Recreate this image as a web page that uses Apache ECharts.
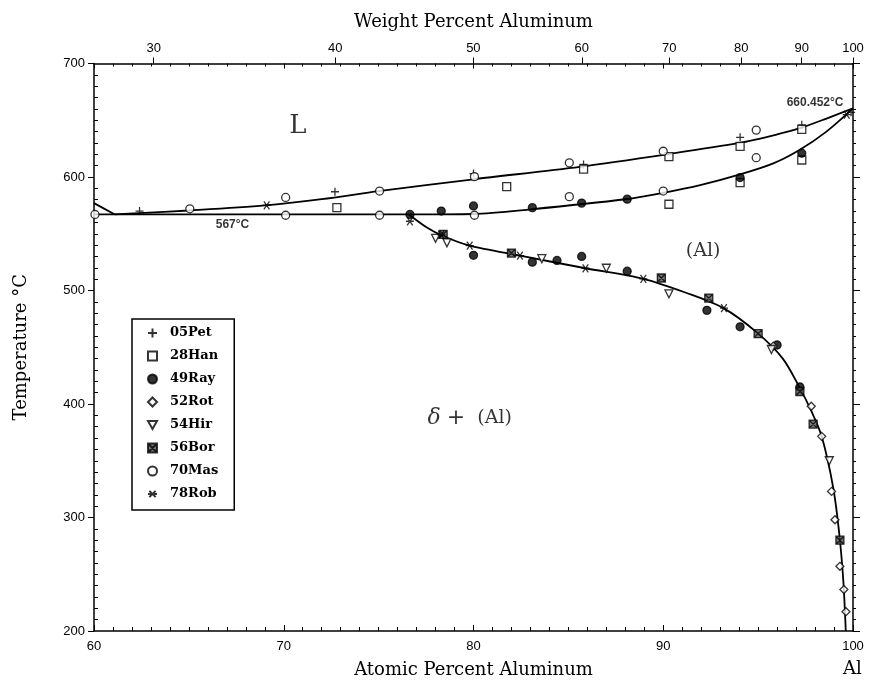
<!DOCTYPE html>
<html>
<head>
<meta charset="utf-8">
<script src="https://cdn.jsdelivr.net/npm/echarts@6.0.0/dist/echarts.min.js"></script>
<style>
html, body { margin: 0; padding: 0; background: #fff; }
#chart { width: 874px; height: 684px; }
</style>
</head>
<body>
<div id="chart"></div>
<script>
// tick labels
const atomicTicks = [60, 70, 80, 90, 100];
const weightTicks = [30, 40, 50, 60, 70, 80, 90, 100];
const tempTicks = [200, 300, 400, 500, 600, 700];

// phase boundaries: [at.% Al, °C]
const liquidusLeft = [[60, 577], [61.1, 567]];
const liquidus = [[61.1, 567], [62.4, 568.2], [65, 570.5], [69, 575], [72, 580.5], [75, 587.5], [80, 598], [85.6, 609], [90.2, 620], [94, 630], [96, 637.5], [97.2, 643], [98.6, 651.5], [100, 660.452]];
const eutectic = [[60, 567], [76.6, 567]];
const solidus = [[76.6, 567], [80, 567.4], [83, 571.5], [88, 580.4], [90, 586], [92, 593], [94, 602], [95.8, 612], [97.2, 624], [98.6, 640], [100, 660.452]];
const solvus = [[76.6, 567], [77.5, 556], [78.4, 548], [79.8, 539.5], [82.45, 530.7], [85.9, 519.6], [88.95, 510.3], [91.2, 498], [93.17, 484.5], [94.9, 463.5], [96.3, 440], [97.2, 414], [97.8, 394], [98.35, 371.5], [98.96, 326], [99.28, 285], [99.49, 244], [99.62, 200]];

// experimental points
const pet05 = [[62.4, 570], [72.7, 587], [80, 603], [85.8, 611], [94.05, 635], [97.3, 646], [99.9, 657]];
const han28 = [[72.8, 573], [81.75, 591.5], [85.8, 607], [90.3, 618], [90.3, 576], [94.05, 627], [94.05, 595], [97.3, 642], [97.3, 615]];
const ray49 = [[76.65, 567], [78.3, 570], [80, 574.5], [83.1, 573], [85.7, 577], [88.1, 580.5], [94.05, 599.5], [97.3, 621], [80, 531], [83.1, 525], [84.4, 526.5], [85.7, 530], [88.1, 517], [92.3, 482.5], [94.05, 468], [96, 452], [97.2, 415]];
const rot52 = [[95.8, 451], [97.8, 398], [98.35, 371.5], [98.87, 323], [99.05, 298], [99.31, 257], [99.52, 236.5], [99.63, 217]];
const hir54 = [[78, 546], [78.6, 542], [83.6, 528], [87, 519.6], [90.3, 497], [95.7, 448], [98.75, 350]];
const bor56 = [[78.4, 549.5], [82, 533], [89.9, 511], [92.4, 493.3], [95, 462], [97.2, 411], [97.9, 382.3], [99.31, 280]];
const mas70 = [[60.05, 567], [65.05, 572], [70.1, 582], [70.1, 566.3], [75.05, 587.6], [75.05, 566.3], [80.05, 600.3], [80.05, 566.3], [85.05, 612.5], [85.05, 582.7], [90, 622.7], [90, 587.6], [94.9, 641.3], [94.9, 617]];
const rob78 = [[69.1, 575], [76.65, 561], [78.3, 549], [79.8, 539.5], [82.45, 530.7], [85.9, 519.6], [88.95, 510.3], [93.2, 484.5], [99.67, 655]];

// text placed on the diagram
const noteText = ['L', '567°C', '660.452°C', '(Al)', '{d|δ} {p|+}  {a|(Al)}'];
const noteX = [70.75, 67.3, 98.0, 92.1, 79.8];
const noteY = [644.6, 557.6, 665.6, 535, 387.5];

// weight% Al -> atomic% Al (Ag-Al)
const M_AL = 26.98, M_AG = 107.87;
const wtToAt = (w) => {
  const a = w / M_AL, b = (100 - w) / M_AG;
  return 100 * a / (a + b);
};
const weightPos = weightTicks.map(wtToAt);

const noteStyles = [
  { fontFamily: 'DejaVu Serif', fontSize: 26 },
  { fontFamily: 'Liberation Sans', fontSize: 12, fontWeight: 'bold' },
  { fontFamily: 'Liberation Sans', fontSize: 12, fontWeight: 'bold' },
  { fontFamily: 'DejaVu Serif', fontSize: 19 },
  {
    fontFamily: 'DejaVu Serif', fontSize: 19,
    rich: {
      d: { fontFamily: 'DejaVu Serif', fontStyle: 'italic', fontSize: 22 },
      p: { fontFamily: 'DejaVu Sans', fontSize: 22 },
      a: { fontFamily: 'DejaVu Serif', fontSize: 19 }
    }
  }
];

const chart = echarts.init(document.getElementById('chart'));

const boundary = (data) => ({
  type: 'line',
  data: data,
  symbol: 'none',
  smooth: 0.3,
  silent: true,
  z: 1,
  lineStyle: { color: '#000', width: 1.8 }
});

const points = (name, data, symbol, fill) => ({
  name: name,
  type: 'scatter',
  data: data,
  symbol: symbol,
  symbolSize: 8,
  z: 3,
  itemStyle: { color: fill, borderColor: '#000', borderWidth: 1.3 }
});

const tickLabel = { fontFamily: 'Liberation Sans', fontSize: 13, color: '#000' };
const axisTitle = { fontFamily: 'DejaVu Serif', fontSize: 18, color: '#000' };
const blackLine = { show: true, lineStyle: { color: '#000', width: 1.5 } };

const option = {
  animation: false,
  backgroundColor: '#fff',
  grid: { left: 94, right: 21, top: 63.5, bottom: 50 },
  legend: {
    orient: 'vertical',
    left: 132,
    top: 319,
    selectedMode: false,
    itemWidth: 9,
    itemHeight: 9,
    itemGap: 9,
    padding: [7, 16, 9, 15],
    borderColor: '#000',
    borderWidth: 1.5,
    textStyle: {
      fontFamily: 'DejaVu Serif', fontWeight: 'bold', fontSize: 13,
      color: '#000', lineHeight: 14, padding: [0, 0, 0, 8]
    },
    data: ['05Pet', '28Han', '49Ray', '52Rot', '54Hir', '56Bor', '70Mas', '78Rob']
  },
  xAxis: [
    {
      type: 'value', position: 'bottom', min: 60, max: 100, interval: 10,
      name: 'Atomic Percent Aluminum', nameLocation: 'middle', nameGap: 30,
      nameTextStyle: axisTitle,
      axisLine: blackLine,
      axisTick: { inside: true, length: 6, lineStyle: { color: '#000' } },
      minorTick: { show: true, splitNumber: 10, length: 4, lineStyle: { color: '#000' } },
      axisLabel: Object.assign({ margin: 9, customValues: atomicTicks }, tickLabel),
      splitLine: { show: false }
    },
    {
      type: 'value', position: 'top', min: 60, max: 100,
      name: 'Weight Percent Aluminum', nameLocation: 'middle', nameGap: 32,
      nameTextStyle: axisTitle,
      axisLine: blackLine,
      axisTick: { inside: false, length: 6, customValues: weightPos, lineStyle: { color: '#000' } },
      axisLabel: Object.assign({
        margin: 9,
        customValues: weightPos,
        formatter: (v) => {
          const i = weightPos.findIndex((p) => Math.abs(p - v) < 1e-6);
          return i >= 0 ? String(weightTicks[i]) : '';
        }
      }, tickLabel),
      splitLine: { show: false }
    },
    {
      type: 'value', position: 'top', min: 60, max: 100, interval: 10,
      axisLine: { show: false },
      axisTick: { inside: true, length: 5, lineStyle: { color: '#000' } },
      minorTick: { show: true, splitNumber: 10, length: 3, lineStyle: { color: '#000' } },
      axisLabel: { show: false },
      splitLine: { show: false }
    }
  ],
  yAxis: [
    {
      type: 'value', position: 'left', min: 200, max: 700, interval: 100,
      name: 'Temperature °C', nameLocation: 'middle', nameGap: 64,
      nameTextStyle: axisTitle,
      axisLine: blackLine,
      axisTick: { inside: false, length: 6, lineStyle: { color: '#000' } },
      axisLabel: Object.assign({ margin: 9, customValues: tempTicks }, tickLabel),
      splitLine: { show: false }
    },
    {
      type: 'value', position: 'left', min: 200, max: 700, interval: 100,
      axisLine: { show: false },
      axisTick: { show: false, inside: true },
      minorTick: { show: true, splitNumber: 10, length: 4, lineStyle: { color: '#000' } },
      axisLabel: { show: false },
      splitLine: { show: false }
    },
    {
      type: 'value', position: 'right', min: 200, max: 700, interval: 100,
      axisLine: blackLine,
      axisTick: { inside: false, length: 7, lineStyle: { color: '#000' } },
      minorTick: { show: true, splitNumber: 10, length: 3, lineStyle: { color: '#000' } },
      axisLabel: { show: false },
      splitLine: { show: false }
    }
  ],
  graphic: [
    {
      type: 'text', left: 843, top: 660,
      style: { text: 'Al', font: '18px "DejaVu Serif"', fill: '#000' }
    }
  ],
  series: [
    boundary(liquidusLeft),
    boundary(liquidus),
    boundary(eutectic),
    boundary(solidus),
    boundary(solvus),
    points('05Pet', pet05, 'path://M5,0V10M0,5H10', '#fff'),
    points('28Han', han28, 'rect', '#fff'),
    points('49Ray', ray49, 'circle', '#000'),
    points('52Rot', rot52, 'diamond', '#fff'),
    points('54Hir', hir54, 'path://M0,0H10L5,9Z', '#fff'),
    points('56Bor', bor56, 'path://M0,0H10V10H0ZM0,0L10,10M10,0L0,10', '#555'),
    points('70Mas', mas70, 'circle', '#fff'),
    points('78Rob', rob78, 'path://M0,5H10M1.5,1.5L8.5,8.5M8.5,1.5L1.5,8.5', '#fff'),
    {
      type: 'scatter',
      silent: true,
      symbolSize: 0,
      z: 4,
      data: noteText.map((t, i) => ({
        value: [noteX[i], noteY[i]],
        label: Object.assign({ show: true, position: 'inside', color: '#000', formatter: t }, noteStyles[i])
      }))
    }
  ]
};

chart.setOption(option);
</script>
</body>
</html>
